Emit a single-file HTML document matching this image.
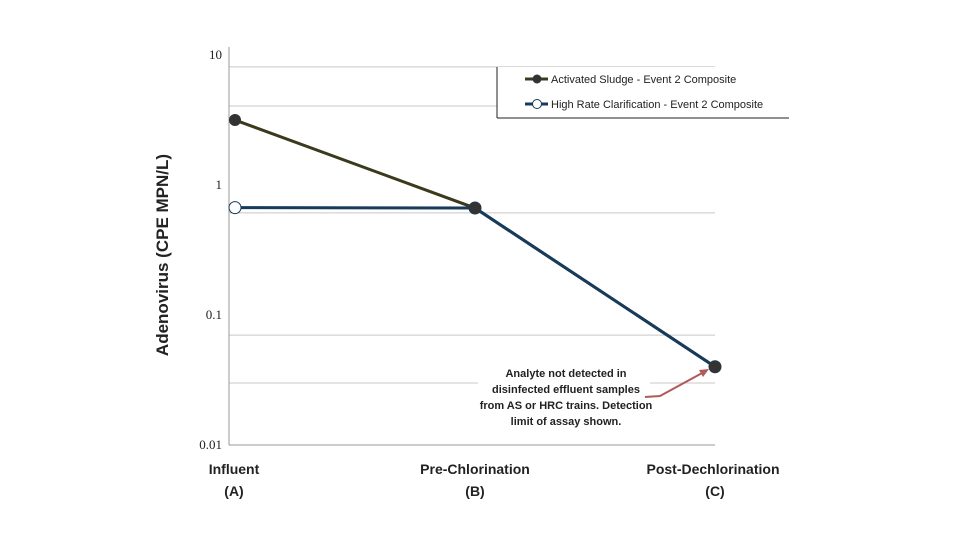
<!DOCTYPE html>
<html><head><meta charset="utf-8"><style>
body{margin:0;background:#fff;}
svg{display:block;font-family:"Liberation Sans",sans-serif;}
</style></head><body>
<svg width="960" height="540" id="c">
<rect width="960" height="540" fill="#fff"/>
<g id="grid"></g>
<line x1="229" y1="47" x2="229" y2="445" stroke="#999"/>
<line x1="229" y1="445" x2="715" y2="445" stroke="#999"/>
<g id="ticks"></g>
<g id="cats"></g>
<text x="0" y="0" transform="translate(168,255) rotate(-90)" text-anchor="middle" font-size="17" font-weight="bold" fill="#222">Adenovirus (CPE MPN/L)</text>
<g id="series"></g>
<g>
<rect x="497" y="67" width="292" height="51" fill="#fff"/>
<line x1="497" y1="67" x2="497" y2="118" stroke="#222"/>
<line x1="497" y1="118" x2="789" y2="118" stroke="#222"/>
<line x1="525" y1="79" x2="548" y2="79" stroke="#3b3a1c" stroke-width="3"/>
<circle cx="537" cy="79" r="4.5" fill="#333"/>
<text x="551" y="83" font-size="11" fill="#222">Activated Sludge - Event 2 Composite</text>
<line x1="525" y1="104" x2="548" y2="104" stroke="#163b5c" stroke-width="3"/>
<circle cx="537" cy="104" r="4.5" fill="#fff" stroke="#163b5c"/>
<text x="551" y="108" font-size="11" fill="#222">High Rate Clarification - Event 2 Composite</text>
</g>
<g>
<rect x="478" y="364" width="172" height="64" fill="#fff"/>
<g font-size="11" font-weight="bold" fill="#222" text-anchor="middle">
<text x="566" y="377">Analyte not detected in</text>
<text x="566" y="393">disinfected effluent samples</text>
<text x="566" y="409">from AS or HRC trains. Detection</text>
<text x="566" y="425">limit of assay shown.</text>
</g>
<polyline points="645,397 660,396 704,372" fill="none" stroke="#b05a5a" stroke-width="2"/>
<polygon points="709,369 699,370 703,377" fill="#b05a5a"/>
</g>
</svg>
<script>
const categories=["Influent|(A)","Pre-Chlorination|(B)","Post-Dechlorination|(C)"];
const asValues=[3.16,0.665,0.04];
const hrcValues=[0.67,0.665,0.04];
const tickValues=[10,1,0.1,0.01];
const tickLabels=["10","1","0.1","0.01"];
const gridValues=[8.1,4.05,0.61,0.07,0.03];
const NS="http://www.w3.org/2000/svg";
function y(v){return 185-130*Math.log10(v);}
function x(i){return 235+240*i;}
function mk(tag,attrs,parent){const e=document.createElementNS(NS,tag);for(const k in attrs)e.setAttribute(k,attrs[k]);parent.appendChild(e);return e;}
const grid=document.getElementById('grid');
gridValues.forEach(v=>{const l=mk('line',{x1:229,x2:715,y1:y(v),y2:y(v),stroke:'#c8c8c8'},grid);

});
const ticks=document.getElementById('ticks');
tickValues.forEach((v,i)=>{const t=mk('text',{x:222,y:y(v)+4,'text-anchor':'end','font-size':13,fill:'#222','font-family':'Liberation Serif, serif'},ticks);t.textContent=tickLabels[i];

});
const cats=document.getElementById('cats');
categories.forEach((c,i)=>{const p=c.split('|');const g=mk('g',{},cats);


const cx=i==0?234:(i==1?475:713);
const t1=mk('text',{x:cx,y:474,'text-anchor':'middle','font-size':14,'font-weight':'bold',fill:'#222'},g);t1.textContent=p[0];
const t2=mk('text',{x:i==2?715:cx,y:496,'text-anchor':'middle','font-size':14,'font-weight':'bold',fill:'#222'},g);t2.textContent=p[1];});
const ser=document.getElementById('series');
function line(vals,color,name){
const pts=vals.map((v,i)=>x(i)+','+y(v)).join(' ');
const pl=mk('polyline',{points:pts,fill:'none',stroke:color,'stroke-width':3},ser);

}
function markers(vals,color,fill,name){
vals.forEach((v,i)=>{const c=mk('circle',{cx:x(i),cy:y(v),r:6,fill:fill,stroke:fill=='#fff'?color:'none'},ser);

});}
line(asValues,'#3b3a1c','as');
line(hrcValues,'#163b5c','hrc');
markers(hrcValues,'#163b5c','#fff','hrc');
markers(asValues,'#3b3a1c','#333','as');
</script>
</body></html>
